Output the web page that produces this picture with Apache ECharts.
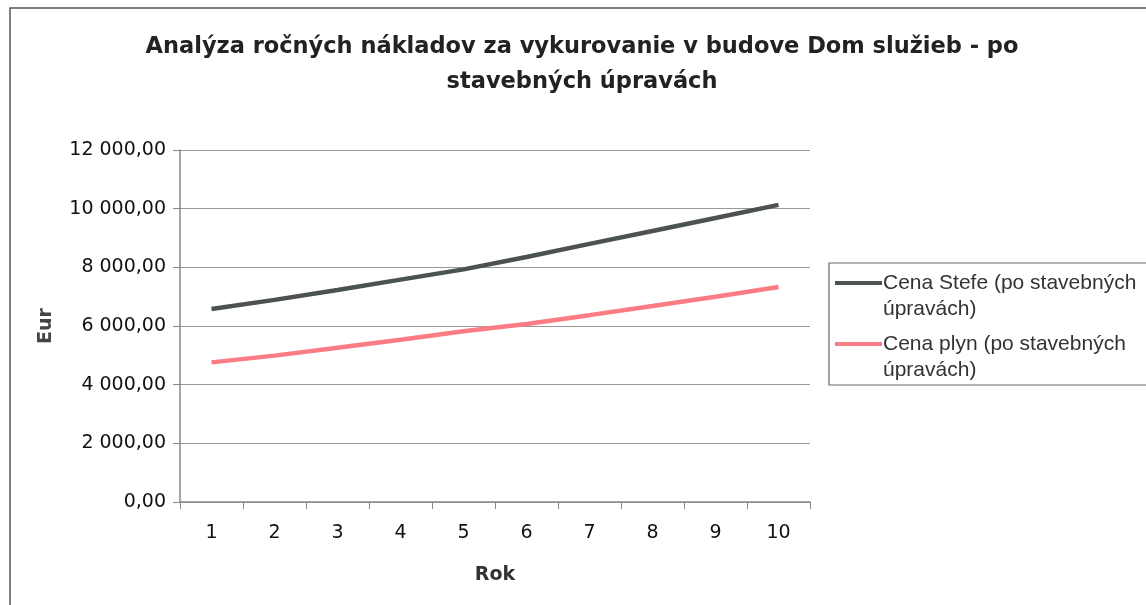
<!DOCTYPE html>
<html>
<head>
<meta charset="utf-8">
<script src="https://cdn.jsdelivr.net/npm/echarts@6/dist/echarts.min.js"></script>
<style>
  html, body { margin: 0; padding: 0; background: #fff; }
  #chart { width: 1146px; height: 605px; }
</style>
</head>
<body>
<div id="chart"></div>
<script>
// values
const years = ['1', '2', '3', '4', '5', '6', '7', '8', '9', '10'];
const cenaStefe = [6580, 6890, 7230, 7580, 7930, 8350, 8800, 9240, 9680, 10130];
const cenaPlyn = [4760, 4990, 5260, 5530, 5820, 6070, 6370, 6680, 7000, 7330];
const seriesNames = ['Cena Stefe (po stavebných\núpravách)', 'Cena plyn (po stavebných\núpravách)'];
const yTicks = [0, 2000, 4000, 6000, 8000, 10000, 12000];

const arial = '"Liberation Sans", Arial, sans-serif';
const dejavu = '"DejaVu Sans", sans-serif';

function formatEur(v) {
  const parts = v.toFixed(2).split('.');
  return parts[0].replace(/\B(?=(\d{3})+(?!\d))/g, ' ') + ',' + parts[1];
}

const chart = echarts.init(document.getElementById('chart'));

const option = {
  animation: false,
  backgroundColor: '#fff',
  title: {
    text: 'Analýza ročných nákladov za vykurovanie v budove Dom služieb - po\nstavebných úpravách',
    left: 577,
    top: 25,
    textAlign: 'center',
    textStyle: {
      fontFamily: dejavu,
      fontSize: 22.5,
      fontWeight: 'bold',
      color: '#222',
      lineHeight: 35
    }
  },
  grid: {
    left: 180,
    right: 336,
    top: 150,
    bottom: 103,
    containLabel: false
  },
  legend: {
    orient: 'vertical',
    left: 835,
    top: 244,
    padding: 0,
    itemGap: -17,
    itemWidth: 47,
    itemHeight: 4,
    icon: 'rect',
    data: seriesNames,
    // blank first line keeps the icon level with the first text line
    formatter: function (name) { return '\n' + name; },
    textStyle: {
      fontFamily: arial,
      fontSize: 21,
      color: '#333',
      lineHeight: 26,
      padding: [0, 0, 0, -4]
    }
  },
  graphic: [
    {
      type: 'polyline',
      shape: { points: [[10, 605], [10, 8], [1146, 8]] },
      style: { stroke: '#555', lineWidth: 1.5, fill: null },
      silent: true
    },
    {
      type: 'rect',
      shape: { x: 829, y: 263, width: 330, height: 122 },
      style: { stroke: '#666', lineWidth: 1.2, fill: null },
      silent: true,
      z: -1
    }
  ],
  xAxis: {
    type: 'category',
    data: years,
    boundaryGap: true,
    name: 'Rok',
    nameLocation: 'middle',
    nameGap: 64,
    nameTextStyle: {
      fontFamily: dejavu,
      fontSize: 19,
      fontWeight: 'bold',
      color: '#333'
    },
    axisLine: { show: true, lineStyle: { color: '#888', width: 1.5 } },
    axisTick: { show: true, interval: 0, length: 7, lineStyle: { color: '#888' } },
    axisLabel: {
      interval: 0,
      margin: 22,
      fontFamily: dejavu,
      fontSize: 19,
      color: '#111'
    },
    splitLine: { show: false }
  },
  yAxis: {
    type: 'value',
    min: 0,
    max: 12000,
    interval: 2000,
    name: 'Eur',
    nameLocation: 'middle',
    nameRotate: 90,
    nameGap: 124,
    nameTextStyle: {
      fontFamily: dejavu,
      fontSize: 19,
      fontWeight: 'bold',
      color: '#444'
    },
    axisLine: { show: true, lineStyle: { color: '#888', width: 1.5 } },
    axisTick: { show: true, length: 7, lineStyle: { color: '#888' } },
    axisLabel: {
      margin: 14,
      fontFamily: dejavu,
      fontSize: 19,
      color: '#111',
      formatter: function (v) {
        return yTicks.indexOf(v) >= 0 ? formatEur(v) : '';
      }
    },
    splitLine: { show: true, lineStyle: { color: '#999', width: 1.2 } }
  },
  series: [
    {
      name: seriesNames[0],
      type: 'line',
      data: cenaStefe,
      symbol: 'none',
      smooth: false,
      lineStyle: { color: '#4b5251', width: 4.5 },
      itemStyle: { color: '#4b5251' }
    },
    {
      name: seriesNames[1],
      type: 'line',
      data: cenaPlyn,
      symbol: 'none',
      smooth: false,
      lineStyle: { color: '#fb7c85', width: 4.5 },
      itemStyle: { color: '#fb7c85' }
    }
  ]
};

chart.setOption(option);
</script>
</body>
</html>
